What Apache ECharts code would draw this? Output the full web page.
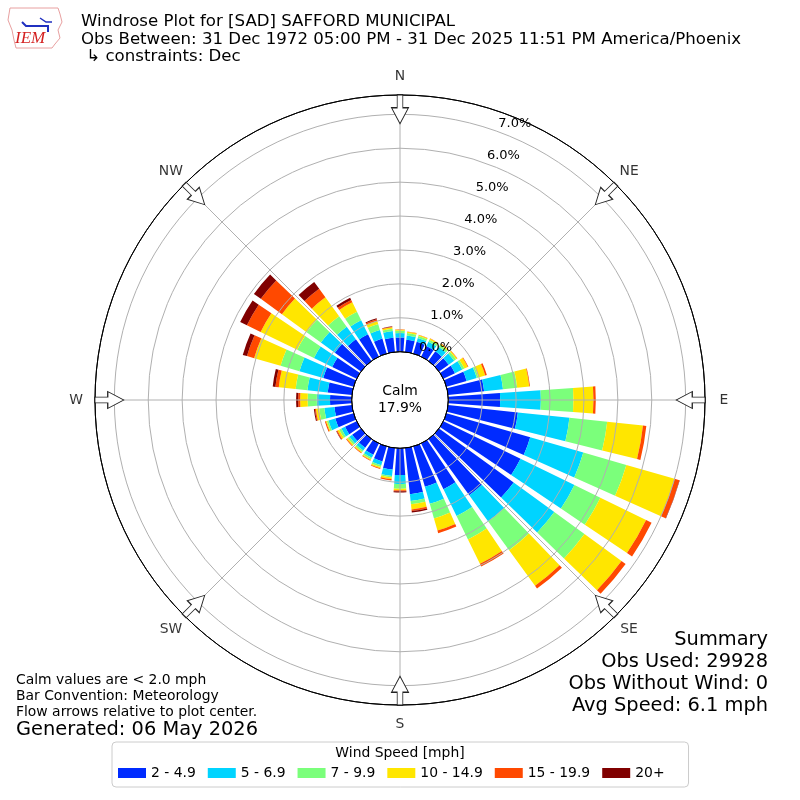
<!DOCTYPE html>
<html>
<head>
<meta charset="utf-8">
<script src="https://cdn.jsdelivr.net/npm/echarts@6/dist/echarts.min.js"></script>
<style>html,body{margin:0;padding:0;background:#fff}#c{width:800px;height:800px}</style>
</head>
<body>
<div id="c"></div>
<script>
// ---- data (percent of observations) ----
const directions = ['0','10','20','30','40','50','60','70','80','90','100','110','120','130','140','150','160','170',
  '180','190','200','210','220','230','240','250','260','270','280','290','300','310','320','330','340','350'];
const speedBins = ['2 - 4.9', '5 - 6.9', '7 - 9.9', '10 - 14.9', '15 - 19.9', '20+'];
const bin2to5 = [0.42,0.36,0.36,0.35,0.35,0.35,0.38,0.62,1.07,1.53,2.07,2.57,2.53,2.72,2.05,1.50,1.24,1.37,
  0.79,0.64,0.46,0.37,0.32,0.32,0.38,0.56,0.52,0.64,0.72,0.93,0.80,0.95,0.79,0.73,0.46,0.42];
const bin5to7 = [0.13,0.13,0.12,0.14,0.17,0.20,0.24,0.31,0.56,1.20,1.53,1.63,1.77,1.48,0.95,0.88,0.52,0.20,
  0.26,0.19,0.12,0.10,0.10,0.10,0.12,0.21,0.30,0.39,0.60,0.73,0.60,0.51,0.46,0.46,0.26,0.20];
const bin7to10 = [0.07,0.07,0.06,0.06,0.07,0.07,0.07,0.05,0.42,0.96,1.12,1.32,0.85,1.10,1.05,0.77,0.45,0.10,
  0.14,0.04,0.05,0.05,0.05,0.06,0.07,0.05,0.15,0.27,0.35,0.58,0.55,0.52,0.38,0.28,0.19,0.07];
const bin10to15 = [0.03,0.04,0.03,0.04,0.04,0.04,0.11,0.21,0.36,0.59,1.06,1.48,1.50,1.35,1.30,0.80,0.37,0.15,
  0.05,0.05,0.04,0.03,0.03,0.04,0.06,0.03,0.10,0.22,0.50,0.81,1.20,0.90,0.69,0.31,0.10,0.04];
const bin15to20 = [0.01,0.01,0.01,0.01,0.01,0.01,0.02,0.05,0.02,0.07,0.10,0.15,0.18,0.15,0.10,0.09,0.08,0.05,
  0.03,0.04,0.02,0.02,0.02,0.02,0.03,0.03,0.03,0.06,0.10,0.22,0.45,0.77,0.31,0.08,0.04,0.02];
const bin20plus = [0,0,0,0,0,0,0,0,0,0,0,0.01,0,0,0,0,0,0.04,
  0.03,0,0,0,0,0,0.01,0,0.03,0.06,0.08,0.13,0.22,0.25,0.25,0.07,0.03,0.01];
const binValues = [bin2to5, bin5to7, bin7to10, bin10to15, bin15to20, bin20plus];
const calmPct = 17.9;
const compassAngles = [0, 45, 90, 135, 180, 225, 270, 315];
const compassLabels = ['N', 'NE', 'E', 'SE', 'S', 'SW', 'W', 'NW'];
const radialMax = 7.57;

// ---- styles ----
const colors = ['#002bff', '#00d4ff', '#7bff7b', '#ffe600', '#ff4900', '#800000'];
const FONT = 'DejaVu Sans';
const CENTER = [400, 400];
const R_IN = 48.3, R_OUT = 305;
const LABEL_SHIFT = 13;
const GRID = '#b0b0b0';
const ARROW_INSET = 0.42;   // arrows sit just inside the outer ring
const COMPASS_OUTSET = 0.56; // compass letters just outside the outer ring

const chart = echarts.init(document.getElementById('c'), null, {renderer: 'canvas'});

const ringColors = ['#000000', GRID, GRID, GRID, GRID, GRID, GRID, GRID, '#000000'];
const arrowPath = 'path://M5.7,0L11.3,0L11.3,13L17,13L8.5,29L0,13L5.7,13Z';

const barSeries = speedBins.map((name, i) => ({
  name: name,
  type: 'bar',
  coordinateSystem: 'polar',
  polarIndex: 1,
  stack: 'wind',
  barWidth: '80%',
  data: binValues[i],
  itemStyle: {color: colors[i]},
  silent: true,
  z: 2
}));

const option = {
  animation: false,
  backgroundColor: '#ffffff',
  textStyle: {fontFamily: FONT},
  polar: [
    {center: CENTER, radius: [R_IN, R_OUT]},
    {center: CENTER, radius: [R_IN, R_OUT]},
    {center: CENTER, radius: [R_IN + LABEL_SHIFT, R_OUT + LABEL_SHIFT]}
  ],
  angleAxis: [
    {
      polarIndex: 0, type: 'value', min: 0, max: 360, interval: 45,
      startAngle: 90, clockwise: true, z: 3,
      axisLine: {lineStyle: {color: '#000', width: 1}},
      axisTick: {show: false},
      splitLine: {lineStyle: {color: GRID, width: 1}},
      axisLabel: {show: false}
    },
    {
      polarIndex: 1, type: 'category', data: directions, startAngle: 95, clockwise: true,
      boundaryGap: true, axisLine: {show: false}, axisTick: {show: false},
      axisLabel: {show: false}, splitLine: {show: false}
    },
    {
      polarIndex: 2, type: 'value', min: 0, max: 360, startAngle: 70.5, clockwise: true,
      axisLine: {show: false}, axisTick: {show: false}, axisLabel: {show: false}, splitLine: {show: false}
    }
  ],
  radiusAxis: [
    {
      polarIndex: 0, type: 'value', min: 0, max: radialMax, interval: 1, z: 3,
      axisLine: {show: false}, axisTick: {show: false}, axisLabel: {show: false},
      splitLine: {lineStyle: {color: ringColors, width: 1}}
    },
    {
      polarIndex: 1, type: 'value', min: 0, max: radialMax,
      axisLine: {show: false}, axisTick: {show: false}, axisLabel: {show: false}, splitLine: {show: false}
    },
    {
      polarIndex: 2, type: 'value', min: 0, max: radialMax, interval: 1, z: 4,
      axisLine: {show: false}, axisTick: {show: false}, splitLine: {show: false},
      axisLabel: {
        showMaxLabel: false, fontSize: 13, color: '#000', fontFamily: FONT, margin: -16,
        align: 'center', verticalAlign: 'middle',
        formatter: v => v.toFixed(1) + '%'
      }
    }
  ],
  legend: {
    data: speedBins,
    left: 112, top: 742,
    orient: 'horizontal',
    itemWidth: 28, itemHeight: 10, itemGap: 12,
    icon: 'rect',
    padding: [24, 24, 7, 6],
    borderColor: '#cccccc', borderWidth: 1, borderRadius: 4,
    backgroundColor: '#ffffff',
    textStyle: {fontSize: 13.9, color: '#000', fontFamily: FONT},
    selectedMode: false
  },
  series: barSeries.concat([{
    type: 'scatter',
    coordinateSystem: 'polar',
    polarIndex: 0,
    symbol: arrowPath,
    symbolSize: [17, 29],
    silent: true,
    z: 5,
    itemStyle: {color: '#ffffff', borderColor: '#222', borderWidth: 1, opacity: 1},
    data: compassAngles.map(a => ({value: [radialMax - ARROW_INSET, a], symbolRotate: -a}))
  }, {
    type: 'scatter',
    coordinateSystem: 'polar',
    polarIndex: 0,
    clip: false,
    symbol: 'circle',
    symbolSize: 1,
    silent: true,
    z: 6,
    itemStyle: {color: 'rgba(0,0,0,0)'},
    label: {
      show: true, position: 'inside', color: '#000', fontSize: 13.9, fontFamily: FONT,
      align: 'center', verticalAlign: 'middle',
      formatter: p => compassLabels[p.dataIndex]
    },
    data: compassAngles.map(a => ({value: [radialMax + COMPASS_OUTSET, a]}))
  }]),
  graphic: [
    // logo
    {type: 'polyline', shape: {points: [[10,8],[58,8],[60,14],[62,22],[58,30],[60,38],[55,44],[52,48],[16,48],[14,40],[12,30],[8,20],[10,8]]},
     style: {stroke: '#e8a0a0', fill: null, lineWidth: 1}, z: 10},
    {type: 'polyline', shape: {points: [[22,22],[26,26],[48,26],[48,32]]}, style: {stroke: '#2030c0', fill: null, lineWidth: 2}, z: 10},
    {type: 'polyline', shape: {points: [[40,18],[46,22],[52,22]]}, style: {stroke: '#2030c0', fill: null, lineWidth: 1.5}, z: 10},
    {type: 'text', x: 15, y: 39, style: {text: 'IEM', font: 'italic 17px "Liberation Serif", "DejaVu Serif", serif', fill: '#d42020', verticalAlign: 'middle'}, z: 10},
    // titles
    {type: 'text', x: 81, y: 21.5, style: {text: 'Windrose Plot for [SAD] SAFFORD MUNICIPAL', font: '16.6px "DejaVu Sans"', fill: '#000', verticalAlign: 'middle'}},
    {type: 'text', x: 81, y: 39.5, style: {text: 'Obs Between: 31 Dec 1972 05:00 PM - 31 Dec 2025 11:51 PM America/Phoenix', font: '16.6px "DejaVu Sans"', fill: '#000', verticalAlign: 'middle'}},
    {type: 'text', x: 81, y: 57, style: {text: ' \u21b3 constraints: Dec', font: '16.6px "DejaVu Sans"', fill: '#000', verticalAlign: 'middle'}},
    // calm
    {type: 'text', x: 400, y: 391, z: 10, style: {text: 'Calm', font: '13.9px "DejaVu Sans"', fill: '#000', align: 'center', verticalAlign: 'middle'}},
    {type: 'text', x: 400, y: 408, z: 10, style: {text: calmPct.toFixed(1) + '%', font: '13.9px "DejaVu Sans"', fill: '#000', align: 'center', verticalAlign: 'middle'}},
    // summary
    {type: 'text', x: 768, y: 640, style: {text: 'Summary', font: '19.4px "DejaVu Sans"', fill: '#000', align: 'right', verticalAlign: 'middle'}},
    {type: 'text', x: 768, y: 662, style: {text: 'Obs Used: 29928', font: '19.4px "DejaVu Sans"', fill: '#000', align: 'right', verticalAlign: 'middle'}},
    {type: 'text', x: 768, y: 684, style: {text: 'Obs Without Wind: 0', font: '19.4px "DejaVu Sans"', fill: '#000', align: 'right', verticalAlign: 'middle'}},
    {type: 'text', x: 768, y: 706, style: {text: 'Avg Speed: 6.1 mph', font: '19.4px "DejaVu Sans"', fill: '#000', align: 'right', verticalAlign: 'middle'}},
    // notes
    {type: 'text', x: 16, y: 680, style: {text: 'Calm values are < 2.0 mph', font: '13.9px "DejaVu Sans"', fill: '#000', verticalAlign: 'middle'}},
    {type: 'text', x: 16, y: 696, style: {text: 'Bar Convention: Meteorology', font: '13.9px "DejaVu Sans"', fill: '#000', verticalAlign: 'middle'}},
    {type: 'text', x: 16, y: 712, style: {text: 'Flow arrows relative to plot center.', font: '13.9px "DejaVu Sans"', fill: '#000', verticalAlign: 'middle'}},
    {type: 'text', x: 16, y: 730, style: {text: 'Generated: 06 May 2026', font: '19.4px "DejaVu Sans"', fill: '#000', verticalAlign: 'middle'}},
    // legend title
    {type: 'text', x: 400, y: 753, z: 20, style: {text: 'Wind Speed [mph]', font: '13.9px "DejaVu Sans"', fill: '#000', align: 'center', verticalAlign: 'middle'}}
  ]
};
chart.setOption(option);
</script>
</body>
</html>
